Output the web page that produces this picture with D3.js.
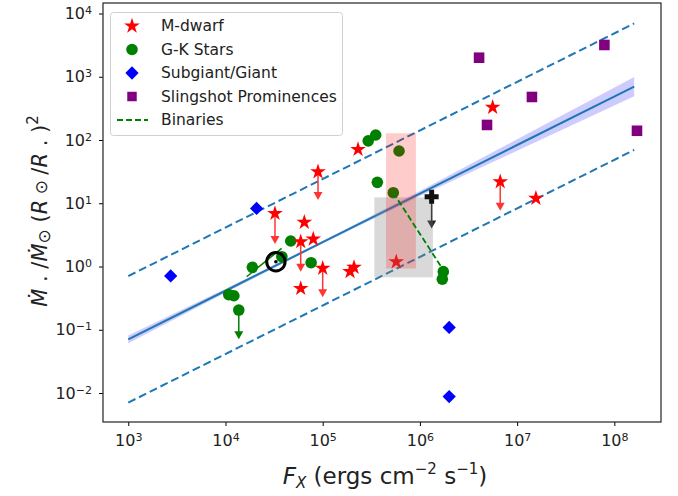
<!DOCTYPE html>
<html>
<head>
<meta charset="utf-8">
<script src="https://cdn.jsdelivr.net/npm/d3@7"></script>
<style>
body { margin: 0; background: #fff; }
text { font-family: "DejaVu Sans", sans-serif; }
</style>
</head>
<body>
<script>
// ---- data ----
let mdwarfFx   = [3.23e4, 6.47e4, 8.0e4, 5.94e4, 5.94e4, 1.0e5, 8.95e4, 1.91e5, 2.1e5, 2.31e5, 5.71e5, 5.6e6, 6.7e6, 1.56e7];
let mdwarfMdot = [6.9, 5.0, 2.72, 2.47, 0.45, 0.94, 31.5, 0.83, 0.97, 71, 1.19, 329, 21.9, 12];
let mdwarfLim  = [2.27, null, null, 0.83, null, 0.326, 11.3, null, null, null, null, null, 7.6, null];

let gkFx   = [1.08e4, 1.22e4, 1.37e4, 1.89e4, 3.8e4, 4.69e4, 7.6e4, 2.94e5, 3.51e5, 3.65e5, 5.32e5, 6.1e5, 1.74e6, 1.7e6];
let gkMdot = [0.36, 0.345, 0.205, 0.97, 1.43, 2.53, 1.15, 97, 120, 21.4, 14.7, 67, 0.83, 0.63];
let gkLim  = [null, null, 0.0706, null, null, null, null, null, null, null, null, null, null, null];

let giantFx   = [2.73e3, 2.09e4, 2.0e6, 2.0e6];
let giantMdot = [0.71, 8.3, 0.109, 0.0088];

let slingFx   = [4.06e6, 4.9e6, 1.42e7, 7.9e7, 1.71e8];
let slingMdot = [2000, 173, 479, 3180, 140];

let binaryFx   = [5.32e5, 1.74e6];
let binaryMdot = [14.7, 0.88];

let linkFx   = [1.65e4, 3.78e4];
let linkMdot = [0.69, 1.94];

let sunFx = [3.3e4];
let sunMdot = [1.19];

let blackFx = [1.32e6];
let blackMdot = [12.7];
let blackLim = [4.0];

let grayBoxFx = [3.4e5, 1.36e6];
let grayBoxMdot = [0.675, 12.4];
let pinkBoxFx = [4.48e5, 9.1e5];
let pinkBoxMdot = [0.93, 128];

let fitFx   = [1e3, 1e4, 1e5, 1e6, 1e7, 1.6e8];
let fitMdot = [0.0706, 0.414, 2.43, 14.2, 83.4, 697];
let bandLo  = [0.0615, 0.386, 2.32, 13.0, 67.8, 490];
let bandHi  = [0.0811, 0.444, 2.54, 15.6, 102.6, 990];

let envFx    = [1e3, 1.6e8];
let envUpper = [0.706, 6970];
let envLower = [0.00706, 69.7];

let xMajor = [1e3, 1e4, 1e5, 1e6, 1e7, 1e8];
let xExp   = ['3', '4', '5', '6', '7', '8'];
let yMajor = [1e-2, 1e-1, 1, 10, 100, 1e3, 1e4];
let yExp   = ['\u22122', '\u22121', '0', '1', '2', '3', '4'];

let legendLabels = ['M-dwarf', 'G-K Stars', 'Subgiant/Giant', 'Slingshot Prominences', 'Binaries'];

// ---- layout ----
let width = 678;
let height = 496;
let pLeft = 103, pRight = 661, pTop = 3, pBottom = 422;

let x = d3.scaleLog().domain([Math.pow(10, 2.74), Math.pow(10, 8.48)]).range([pLeft, pRight]);
let y = d3.scaleLog().domain([Math.pow(10, -2.458), Math.pow(10, 4.166)]).range([pBottom, pTop]);

let svg = d3.select('body')
  .append('svg')
  .attr('width', width)
  .attr('height', height);

function minorTicks(scale) {
  let d = scale.domain();
  let out = [];
  for (let e = Math.floor(Math.log10(d[0])); e <= Math.ceil(Math.log10(d[1])); e++) {
    for (let m = 2; m <= 9; m++) {
      let v = m * Math.pow(10, e);
      if (v >= d[0] && v <= d[1]) out.push(v);
    }
  }
  return out;
}

// axes
let gx = svg.append('g').attr('transform', `translate(0,${pBottom})`);
gx.call(d3.axisBottom(x).tickValues(minorTicks(x)).tickSize(2).tickSizeOuter(0).tickFormat(''));
gx.call(d3.axisBottom(x).tickValues(xMajor).tickSize(4).tickSizeOuter(0).tickPadding(9));
gx.selectAll('.domain').remove();
gx.selectAll('.tick text')
  .attr('font-size', 16)
  .attr('font-family', 'DejaVu Sans')
  .attr('fill', '#222')
  .each(function(d) {
    let t = d3.select(this);
    t.text('10');
    t.append('tspan').attr('dy', '-0.45em').attr('font-size', 11).text(xExp[xMajor.indexOf(d)]);
  });

let gy = svg.append('g').attr('transform', `translate(${pLeft},0)`);
gy.call(d3.axisLeft(y).tickValues(minorTicks(y)).tickSize(2).tickSizeOuter(0).tickFormat(''));
gy.call(d3.axisLeft(y).tickValues(yMajor).tickSize(4).tickSizeOuter(0).tickPadding(7));
gy.selectAll('.domain').remove();
gy.selectAll('.tick text')
  .attr('font-size', 16)
  .attr('font-family', 'DejaVu Sans')
  .attr('fill', '#222')
  .each(function(d) {
    let t = d3.select(this);
    t.text('10');
    t.append('tspan').attr('dy', '-0.45em').attr('font-size', 11).text(yExp[yMajor.indexOf(d)]);
  });

let plot = svg.append('g');

// fit band + lines
let band = d3.area()
  .x((d, i) => x(fitFx[i]))
  .y0((d, i) => y(bandLo[i]))
  .y1((d, i) => y(bandHi[i]));
plot.append('path').attr('d', band(fitFx)).attr('fill', 'blue').attr('fill-opacity', 0.2);

let line = d3.line().x(d => x(d[0])).y(d => y(d[1]));
plot.append('path')
  .attr('d', line(d3.zip(fitFx, fitMdot)))
  .attr('fill', 'none').attr('stroke', '#1f77b4').attr('stroke-width', 2);
[envUpper, envLower].forEach(function(ys) {
  plot.append('path')
    .attr('d', line(d3.zip(envFx, ys)))
    .attr('fill', 'none').attr('stroke', '#1f77b4').attr('stroke-width', 2)
    .attr('stroke-dasharray', '8,4');
});

// upper-limit arrows
function arrows(fx, from, to, color) {
  fx.forEach(function(v, i) {
    if (to[i] == null) return;
    let px = x(v), y0 = y(from[i]), y1 = y(to[i]);
    plot.append('line')
      .attr('x1', px).attr('x2', px).attr('y1', y0).attr('y2', y1 - 6)
      .attr('stroke', color).attr('stroke-width', 1.5);
    plot.append('path')
      .attr('d', `M${px - 4.5},${y1 - 8}L${px + 4.5},${y1 - 8}L${px},${y1}Z`)
      .attr('fill', color);
  });
}
arrows(mdwarfFx, mdwarfMdot, mdwarfLim, '#ff3535');
arrows(gkFx, gkMdot, gkLim, 'green');
arrows(blackFx, blackMdot, blackLim, '#222');

// thin green link
plot.append('path')
  .attr('d', line(d3.zip(linkFx, linkMdot)))
  .attr('fill', 'none').attr('stroke', 'green').attr('stroke-width', 1.5);

let star = d3.symbol().type(d3.symbolStar).size(76);
let diamond = d3.symbol().type(d3.symbolSquare).size(88);
let square = d3.symbol().type(d3.symbolSquare).size(112);

// markers
plot.selectAll('.gk')
  .data(d3.zip(gkFx, gkMdot))
  .enter().append('circle')
  .attr('cx', d => x(d[0])).attr('cy', d => y(d[1]))
  .attr('r', 5.8).attr('fill', 'green');

plot.selectAll('.md')
  .data(d3.zip(mdwarfFx, mdwarfMdot))
  .enter().append('path')
  .attr('d', star)
  .attr('transform', d => `translate(${x(d[0])},${y(d[1])})`)
  .attr('fill', 'red');

plot.selectAll('.gi')
  .data(d3.zip(giantFx, giantMdot))
  .enter().append('path')
  .attr('d', diamond)
  .attr('transform', d => `translate(${x(d[0])},${y(d[1])}) rotate(45)`)
  .attr('fill', 'blue');

plot.selectAll('.sl')
  .data(d3.zip(slingFx, slingMdot))
  .enter().append('path')
  .attr('d', square)
  .attr('transform', d => `translate(${x(d[0])},${y(d[1])})`)
  .attr('fill', 'purple');

// sun symbol
sunFx.forEach(function(v, i) {
  plot.append('circle').attr('cx', x(v)).attr('cy', y(sunMdot[i])).attr('r', 9.2)
    .attr('fill', 'none').attr('stroke', 'black').attr('stroke-width', 3);
  plot.append('circle').attr('cx', x(v)).attr('cy', y(sunMdot[i])).attr('r', 1.8).attr('fill', 'black');
});

// shaded boxes
plot.append('rect')
  .attr('x', x(grayBoxFx[0])).attr('width', x(grayBoxFx[1]) - x(grayBoxFx[0]))
  .attr('y', y(grayBoxMdot[1])).attr('height', y(grayBoxMdot[0]) - y(grayBoxMdot[1]))
  .attr('fill', 'gray').attr('fill-opacity', 0.3);
plot.append('rect')
  .attr('x', x(pinkBoxFx[0])).attr('width', x(pinkBoxFx[1]) - x(pinkBoxFx[0]))
  .attr('y', y(pinkBoxMdot[1])).attr('height', y(pinkBoxMdot[0]) - y(pinkBoxMdot[1]))
  .attr('fill', 'red').attr('fill-opacity', 0.2);

// binaries
plot.append('path')
  .attr('d', line(d3.zip(binaryFx, binaryMdot)))
  .attr('fill', 'none').attr('stroke', 'green').attr('stroke-width', 1.8)
  .attr('stroke-dasharray', '6,3');

// black plus marker
blackFx.forEach(function(v, i) {
  let px = x(v), py = y(blackMdot[i]);
  plot.append('path')
    .attr('d', `M${px - 2.5},${py - 7}h5v4.5h4.5v5h-4.5v4.5h-5v-4.5h-4.5v-5h4.5z`)
    .attr('fill', '#111');
});

// frame
svg.append('rect')
  .attr('x', pLeft).attr('y', pTop).attr('width', pRight - pLeft).attr('height', pBottom - pTop)
  .attr('fill', 'none').attr('stroke', '#222').attr('stroke-width', 1.2);

// legend
let lg = svg.append('g');
lg.append('rect')
  .attr('x', 110.5).attr('y', 12.5).attr('width', 232).attr('height', 123).attr('rx', 3)
  .attr('fill', 'white').attr('fill-opacity', 0.85).attr('stroke', '#d0d0d0');
legendLabels.forEach(function(lab, i) {
  let ly = 26 + i * 23.5;
  if (i == 0) lg.append('path').attr('d', star).attr('transform', `translate(132,${ly})`).attr('fill', 'red');
  if (i == 1) lg.append('circle').attr('cx', 132).attr('cy', ly).attr('r', 5.8).attr('fill', 'green');
  if (i == 2) lg.append('path').attr('d', diamond).attr('transform', `translate(132,${ly}) rotate(45)`).attr('fill', 'blue');
  if (i == 3) lg.append('path').attr('d', d3.symbol().type(d3.symbolSquare).size(90)).attr('transform', `translate(132,${ly})`).attr('fill', 'purple');
  if (i == 4) lg.append('line').attr('x1', 117).attr('x2', 148).attr('y1', ly).attr('y2', ly)
    .attr('stroke', 'green').attr('stroke-width', 1.8).attr('stroke-dasharray', '6,3');
  lg.append('text').attr('x', 161).attr('y', ly).attr('dy', '0.35em')
    .attr('font-size', 15.5).attr('fill', '#222').text(lab);
});

// axis labels
let xl = svg.append('text')
  .attr('x', 385).attr('y', 484)
  .attr('text-anchor', 'middle').attr('font-size', 23).attr('fill', '#222');
xl.append('tspan').attr('font-style', 'italic').text('F');
xl.append('tspan').attr('font-style', 'italic').attr('font-size', 15).attr('dy', 4).text('X');
xl.append('tspan').attr('dy', -4).text(' (ergs cm');
xl.append('tspan').attr('font-size', 15).attr('dy', -10).text('\u22122');
xl.append('tspan').attr('dy', 10).text(' s');
xl.append('tspan').attr('font-size', 15).attr('dy', -10).text('\u22121');
xl.append('tspan').attr('dy', 10).text(')');

let yl = svg.append('text')
  .attr('transform', 'translate(47,211) rotate(-90)')
  .attr('text-anchor', 'middle').attr('font-size', 21).attr('fill', '#222');
yl.append('tspan').attr('font-style', 'italic').text('\u1E40');
yl.append('tspan').text(' . /');
yl.append('tspan').attr('font-style', 'italic').text('\u1E40');
yl.append('tspan').attr('font-size', 17).attr('dy', 3).text('\u2299');
yl.append('tspan').attr('dy', -3).text(' (');
yl.append('tspan').attr('font-style', 'italic').text('R');
yl.append('tspan').attr('font-size', 17).text(' \u2299 ');
yl.append('tspan').text('/');
yl.append('tspan').attr('font-style', 'italic').text('R');
yl.append('tspan').text(' . )');
yl.append('tspan').attr('font-size', 15).attr('dy', -9).text('2');
</script>
</body>
</html>
